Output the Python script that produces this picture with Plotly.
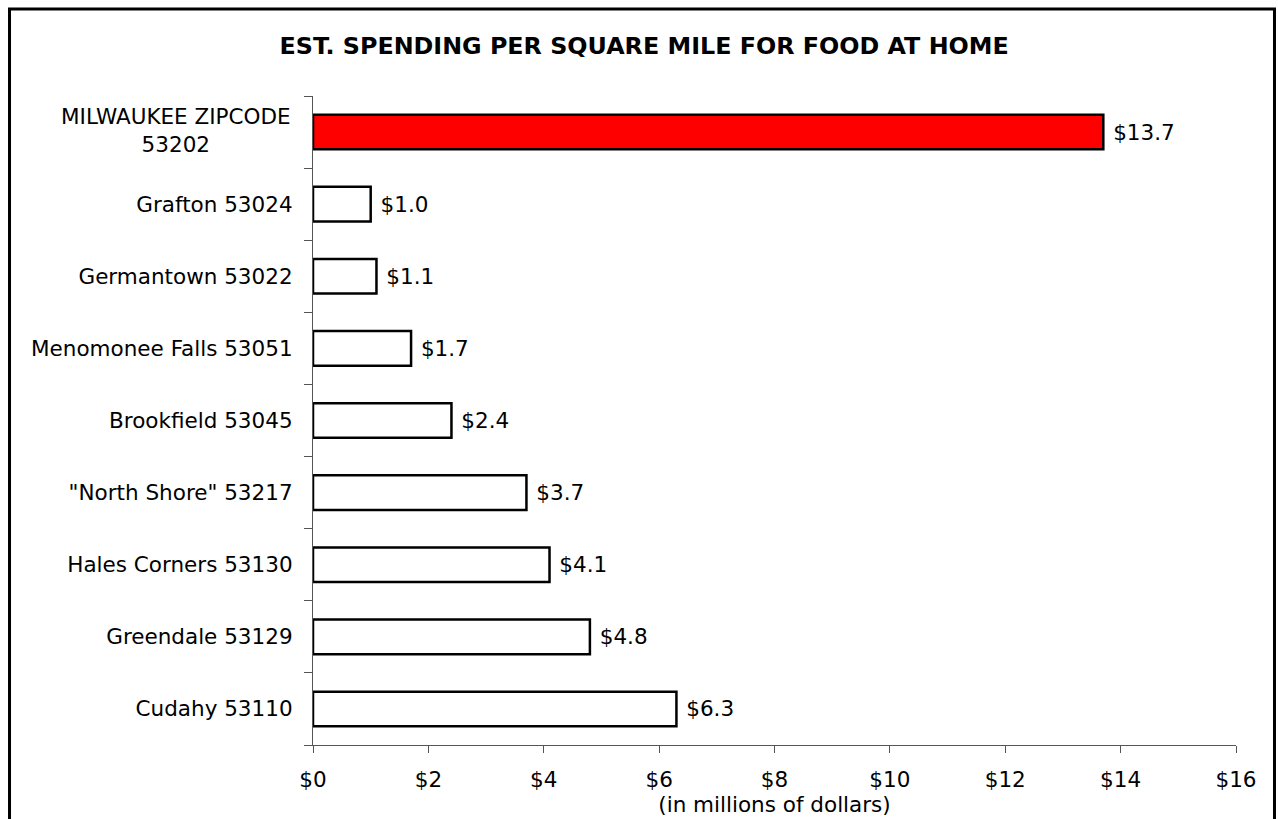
import plotly.graph_objects as go

# Spending per square mile for food at home, in millions of dollars
places = ['MILWAUKEE ZIPCODE<br>53202', 'Grafton 53024', 'Germantown 53022',
          'Menomonee Falls 53051', 'Brookfield 53045', '"North Shore" 53217',
          'Hales Corners 53130', 'Greendale 53129', 'Cudahy 53110']
spending = [13.7, 1.0, 1.1, 1.7, 2.4, 3.7, 4.1, 4.8, 6.3]
x_ticks = [0, 2, 4, 6, 8, 10, 12, 14, 16]
x_tick_labels = ['$0', '$2', '$4', '$6', '$8', '$10', '$12', '$14', '$16']

colors = ['#ff0000'] + ['#ffffff'] * (len(places) - 1)

font = 'DejaVu Sans, Verdana, sans-serif'
fsize = 21.5

fig = go.Figure(go.Bar(
    x=spending,
    y=places,
    orientation='h',
    marker=dict(color=colors, line=dict(color='black', width=2.5)),
    text=[' $%.1f' % v for v in spending],
    textposition='outside',
    textfont=dict(size=fsize, color='black', family=font),
    cliponaxis=False,
))

fig.update_layout(
    width=1278, height=819,
    margin=dict(l=313, r=42, t=96, b=71),
    paper_bgcolor='white', plot_bgcolor='white',
    font=dict(family=font, size=fsize, color='black'),
    title=dict(text='<b>EST. SPENDING PER SQUARE MILE FOR FOOD AT HOME</b>',
               x=0.504, xanchor='center', y=0.944, yanchor='middle',
               font=dict(size=23.8, color='black')),
    bargap=0.52,
    showlegend=False,
)

fig.update_xaxes(
    range=[0, 16], tickvals=x_ticks, ticktext=x_tick_labels,
    showgrid=False, zeroline=False,
    showline=True, linecolor='#555555', linewidth=1.2,
    ticks='outside', ticklen=7, tickcolor='#555555', tickwidth=1.2,
    ticklabelstandoff=8,
    title=dict(text='(in millions of dollars)', standoff=0,
               font=dict(size=fsize, color='black')),
)

# the first label is centred over two lines, so it is drawn as an annotation
y_tick_labels = [''] + places[1:]
fig.update_yaxes(
    autorange='reversed', tickson='boundaries',
    tickvals=places, ticktext=y_tick_labels,
    showgrid=False, zeroline=False,
    showline=True, linecolor='#555555', linewidth=1.2,
    ticks='outside', ticklen=8, tickcolor='#555555', tickwidth=1.2,
    ticklabelstandoff=15,
)
fig.add_annotation(text=places[0], xref='paper', yref='y', x=0, y=places[0],
                   xanchor='right', xshift=-20, yshift=2, align='center',
                   showarrow=False, font=dict(size=fsize, color='black'))

# outer chart frame, bottom edge runs off the page
fig.add_shape(type='rect', xref='paper', yref='paper',
              x0=-0.3288, x1=1.0417, y0=-0.2, y1=1.1342,
              line=dict(color='black', width=3))

fig.write_html('out.html', config={'displayModeBar': False},
               post_script="document.body.style.margin='0';")
